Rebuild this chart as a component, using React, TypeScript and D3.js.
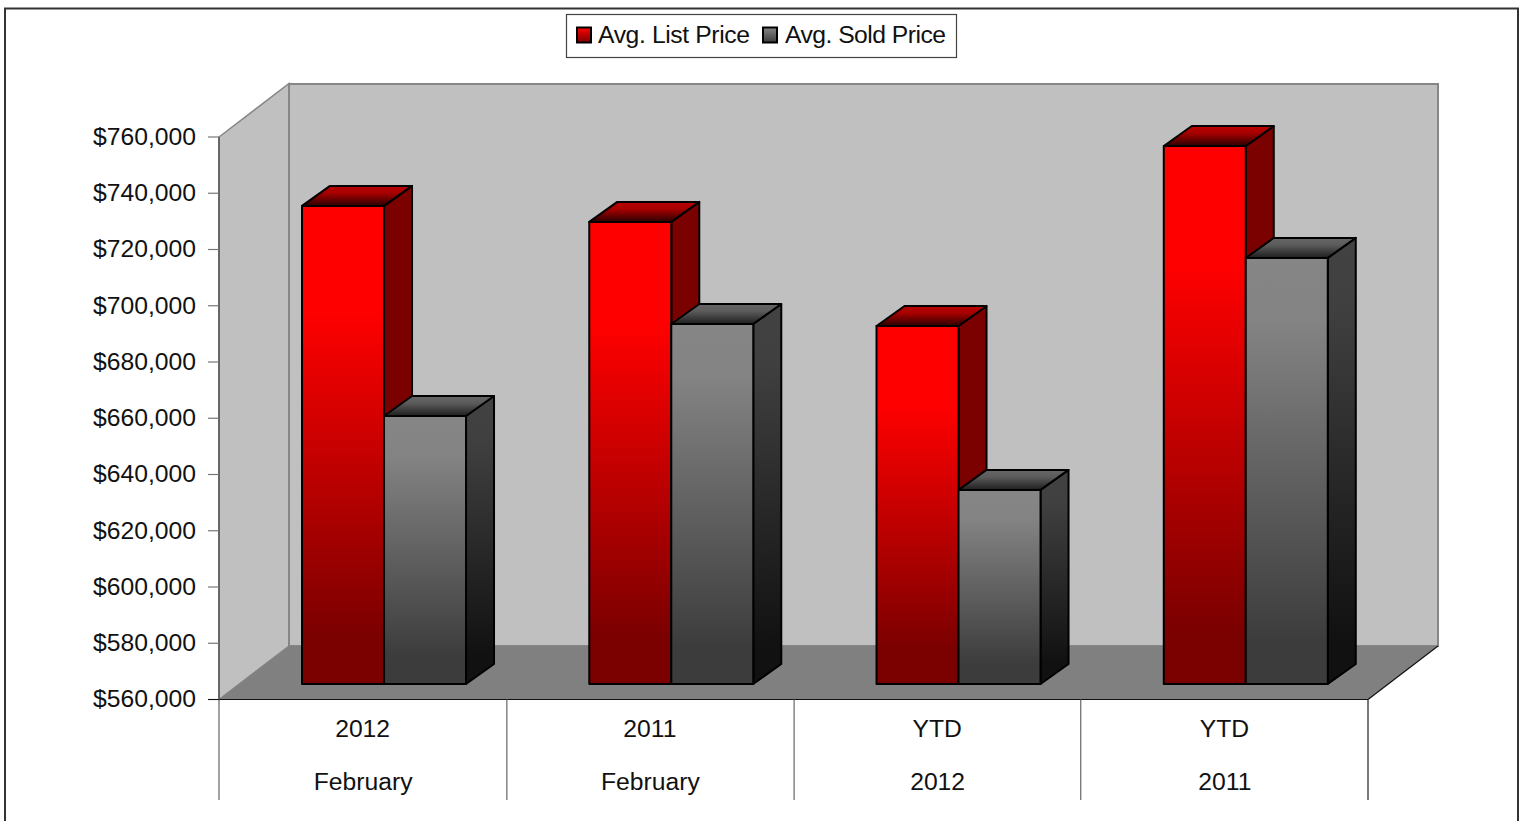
import React from "react";
import * as d3 from "d3";

const categories = ["2012|February", "2011|February", "YTD|2012", "YTD|2011"];
const topLabels = ["2012", "2011", "YTD", "YTD"];
const bottomLabels = ["February", "February", "2012", "2011"];
const seriesNames = ["Avg. List Price", "Avg. Sold Price"];
const listPrice = [730000, 724300, 687300, 751300];
const soldPrice = [655300, 688000, 629000, 711500];
const yTicks = [560000, 580000, 600000, 620000, 640000, 660000, 680000, 700000, 720000, 740000, 760000];

const W = 1522, H = 821;
const plot = { left: 219, right: 1368, top: 137, bottom: 699.5 };
const wallD = { x: 70, y: -53.5 };
const barD = { x: 28, y: -20 };
const barShift = { x: 21.4, y: -15.5 };
const FONT = "'Liberation Sans', Arial, sans-serif";

const x = d3.scaleBand<string>().domain(categories).range([plot.left, plot.right]);
const y = d3.scaleLinear().domain([560000, 760000]).range([plot.bottom, plot.top]);
const money = (v: number) => "$" + d3.format(",")(v);
const line = d3.line();
const poly = (pts: [number, number][]) => line(pts) + "Z";

const barW = 82;

function Bar({ x0, value, front, side, top }: { x0: number; value: number; front: string; side: string; top: string }) {
  const yT = y(value) + barShift.y;
  const yB = y(560000) + barShift.y;
  const x1 = x0 + barW;
  return (
    <g stroke="#000" strokeWidth={2} strokeLinejoin="round">
      <path d={poly([[x1, yT], [x1 + barD.x, yT + barD.y], [x1 + barD.x, yB + barD.y], [x1, yB]])} fill={`url(#${side})`} />
      <path d={poly([[x0, yT], [x0 + barD.x, yT + barD.y], [x1 + barD.x, yT + barD.y], [x1, yT]])} fill={`url(#${top})`} />
      <path d={poly([[x0, yT], [x1, yT], [x1, yB], [x0, yB]])} fill={`url(#${front})`} />
    </g>
  );
}

function Grad({ id, stops }: { id: string; stops: [number, string][] }) {
  return (
    <linearGradient id={id} x1="0" y1="0" x2="0" y2="1">
      {stops.map(([o, c]) => <stop key={o} offset={o} stopColor={c} />)}
    </linearGradient>
  );
}

export default function App() {
  const bw = x.bandwidth();
  const textProps = { fontFamily: FONT, fontSize: 24.7, fill: "#111" };
  return (
    <svg width={W} height={H} viewBox={`0 0 ${W} ${H}`} style={{ position: "absolute", left: 0, top: 0, display: "block" }}>
      <defs>
        <Grad id="rf" stops={[[0, "#ff0000"], [0.22, "#ff0000"], [0.9, "#7b0000"], [1, "#7b0000"]]} />
        <Grad id="rs" stops={[[0, "#7b0000"], [1, "#7b0000"]]} />
        <Grad id="rt" stops={[[0, "#b80000"], [0.35, "#a80000"], [1, "#2c0000"]]} />
        <Grad id="gf" stops={[[0, "#868686"], [0.15, "#838383"], [0.9, "#3c3c3c"], [1, "#3c3c3c"]]} />
        <Grad id="gs" stops={[[0, "#424242"], [0.15, "#404040"], [0.9, "#111111"], [1, "#111111"]]} />
        <Grad id="gt" stops={[[0, "#666666"], [0.35, "#5c5c5c"], [1, "#1e1e1e"]]} />
        <Grad id="lr" stops={[[0, "#ff0000"], [1, "#7b0000"]]} />
        <Grad id="lg" stops={[[0, "#868686"], [1, "#3c3c3c"]]} />
      </defs>
      <rect x={0} y={0} width={W} height={H} fill="#fff" />
      <path d={`M5,${H}V8.5H1518V${H}`} fill="none" stroke="#333" strokeWidth={2} />

      {/* walls and floor */}
      <path d={poly([[plot.left, plot.top], [plot.left + wallD.x, plot.top + wallD.y], [plot.left + wallD.x, plot.bottom + wallD.y], [plot.left, plot.bottom]])} fill="#c0c0c0" stroke="#868686" strokeWidth={1.5} />
      <rect x={plot.left + wallD.x} y={plot.top + wallD.y + 0.5} width={plot.right - plot.left} height={plot.bottom - plot.top - 0.5} fill="#c0c0c0" stroke="#868686" strokeWidth={2} />
      <path d={poly([[plot.left, plot.bottom], [plot.right, plot.bottom], [plot.right + wallD.x, plot.bottom + wallD.y], [plot.left + wallD.x, plot.bottom + wallD.y]])} fill="#808080" />
      <line x1={plot.right} y1={plot.bottom} x2={plot.right + wallD.x} y2={plot.bottom + wallD.y} stroke="#111" strokeWidth={1.2} />

      {/* bars */}
      {categories.map((c, i) => {
        const x0 = (x(c) as number) + bw / 2 - barW + barShift.x;
        return (
          <g key={c}>
            <Bar x0={x0} value={listPrice[i]} front="rf" side="rs" top="rt" />
            <Bar x0={x0 + barW} value={soldPrice[i]} front="gf" side="gs" top="gt" />
          </g>
        );
      })}

      {/* value axis */}
      <line x1={plot.left} y1={plot.top} x2={plot.left} y2={plot.bottom} stroke="#444" strokeWidth={1.2} />
      {yTicks.map((t) => (
        <g key={t}>
          <line x1={208} x2={plot.left} y1={y(t)} y2={y(t)} stroke="#777" strokeWidth={1.2} />
          <text x={196} y={y(t) - 1} dy="0.36em" textAnchor="end" {...textProps}>{money(t)}</text>
        </g>
      ))}

      {/* category axis */}
      <line x1={208} x2={plot.right} y1={plot.bottom} y2={plot.bottom} stroke="#111" strokeWidth={1.2} />
      {[...categories.map((c) => x(c) as number), plot.right].map((v, i) => (
        <line key={i} x1={v + (i > 0 && i < 3 ? 0.6 : 0)} x2={v + (i > 0 && i < 3 ? 0.6 : 0)} y1={plot.bottom} y2={800} stroke={i === 4 ? "#222" : "#666"} strokeWidth={1.2} />
      ))}
      {categories.map((c, i) => (
        <g key={c} textAnchor="middle" {...textProps}>
          <text x={(x(c) as number) + bw / 2} y={737}>{topLabels[i]}</text>
          <text x={(x(c) as number) + bw / 2 + 0.5} y={790}>{bottomLabels[i]}</text>
        </g>
      ))}

      {/* legend */}
      <rect x={566.5} y={14.5} width={390} height={43} fill="#fff" stroke="#444" strokeWidth={1.2} />
      <rect x={577} y={27.5} width={14} height={15} fill="url(#lr)" stroke="#000" strokeWidth={2} />
      <text x={598} y={42.5} textLength={152} lengthAdjust="spacing" {...textProps}>{seriesNames[0]}</text>
      <rect x={763} y={27.5} width={14} height={15} fill="url(#lg)" stroke="#000" strokeWidth={2} />
      <text x={785} y={42.5} textLength={161} lengthAdjust="spacing" {...textProps}>{seriesNames[1]}</text>
    </svg>
  );
}
